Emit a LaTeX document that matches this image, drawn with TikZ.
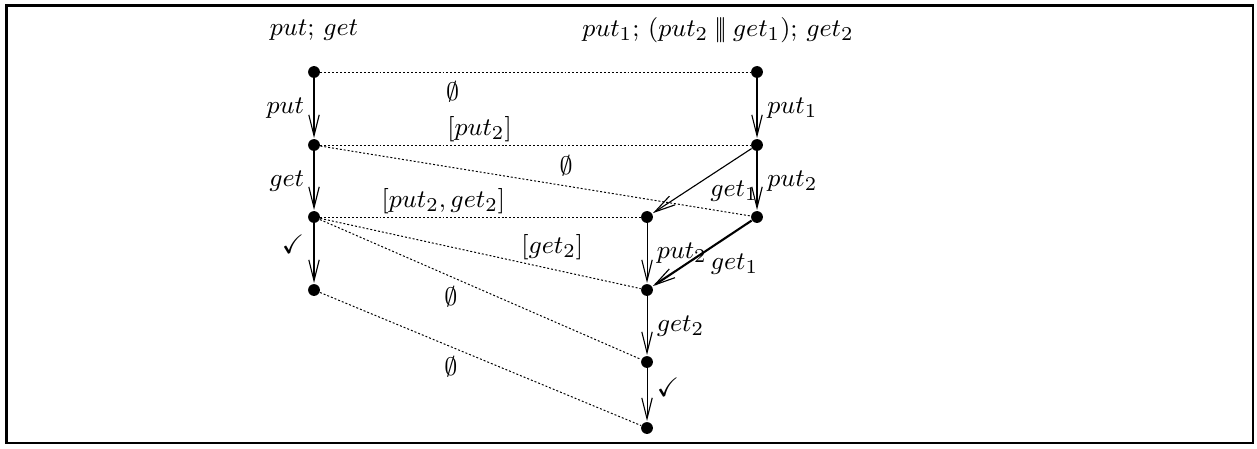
\documentclass[tikz,border=0pt]{standalone}
\usepackage{amsmath}
\usepackage{amssymb}
\usepackage{tikz}
\usetikzlibrary{arrows.meta}

\begin{document}
\begin{tikzpicture}[
      font=\fontsize{9.5pt}{11pt}\selectfont,
      state/.style={circle, fill=black, inner sep=0pt, minimum size=4.2pt},
      trans/.style={-{Straight Barb[length=2.6mm,width=1.3mm,line width=0.4pt]}, line width=0.4pt, shorten >=0.2pt},
      heavy/.style={trans, line width=0.75pt},
      light/.style={trans, line width=0.3pt},
      sim/.style={dash pattern=on 0.7pt off 0.7pt, line width=0.35pt}
    ]
      \useasboundingbox (0,0) rectangle (15.7125,-5.6);
      \draw[line width=0.9pt] (0.081,-0.069) rectangle (15.66,-5.54);

      \node (tleft) at (3.925,-0.375) {$put;\, get$};
      \node (tright) at (8.975,-0.375) {$put_1;\, (put_2 \mathbin{|\!|\!|} get_1);\, get_2$};

      \node[state] (l0) at (3.925,-0.9) {};
      \node[state] (l1) at (3.925,-1.8125) {};
      \node[state] (l2) at (3.925,-2.7125) {};
      \node[state] (l3) at (3.925,-3.625) {};

      \node[state] (r0) at (9.4625,-0.9) {};
      \node[state] (r1) at (9.4625,-1.8125) {};
      \node[state] (r2) at (9.4625,-2.7125) {};

      \node[state] (m0) at (8.0875,-2.7125) {};
      \node[state] (m1) at (8.0875,-3.625) {};
      \node[state] (m2) at (8.0875,-4.525) {};
      \node[state] (m3) at (8.0875,-5.35) {};

      \draw[trans] (l0) -- node[left] {$put$} (l1);
      \draw[trans] (l1) -- node[left] {$get$} (l2);
      \draw[trans] (l2) -- node[left, pos=0.35] {$\checkmark$} (l3);

      \draw[heavy] (r0) -- node[right] {$put_1$} (r1);
      \draw[heavy] (r1) -- node[right] {$put_2$} (r2);
      \draw[trans] (r1) -- node[below right, pos=0.45, inner sep=1pt] {$get_1$} (m0);
      \draw[heavy] (r2) -- node[below right, pos=0.45, inner sep=1pt] {$get_1$} (m1);

      \draw[light] (m0) -- node[right] {$put_2$} (m1);
      \draw[light] (m1) -- node[right] {$get_2$} (m2);
      \draw[light] (m2) -- node[right, pos=0.35] {$\checkmark$} (m3);

      \draw[sim] (l0) -- node[below, pos=0.307] {$\emptyset$} (r0);
      \draw[sim] (l1) -- node[above, pos=0.37, inner sep=1pt] {$[put_2]$} (r1);
      \draw[sim] (l1) -- node[above, pos=0.571] {$\emptyset$} (r2);
      \draw[sim] (l2) -- node[above, pos=0.384, inner sep=1pt] {$[put_2, get_2]$} (m0);
      \draw[sim] (l2) -- node[above, pos=0.724] {$[get_2]$} (m1);
      \draw[sim] (l2) -- node[below, pos=0.408] {$\emptyset$} (m2);
      \draw[sim] (l3) -- node[below, pos=0.408] {$\emptyset$} (m3);
    \end{tikzpicture}
\end{document}
